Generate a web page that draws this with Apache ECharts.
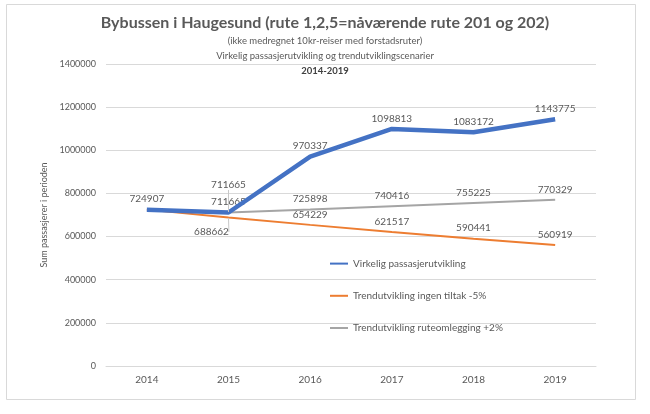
<!DOCTYPE html>
<html>
<head>
<meta charset="utf-8">
<script src="https://cdn.jsdelivr.net/npm/echarts@6/dist/echarts.min.js"></script>
<style>
  html, body { margin: 0; padding: 0; background: #fff; }
  #chart { width: 650px; height: 414px; }
</style>
</head>
<body>
<div id="chart"></div>
<script>
  // data
  const years = ['2014', '2015', '2016', '2017', '2018', '2019'];
  const virkelig = [724907, 711665, 970337, 1098813, 1083172, 1143775];
  const ingenTiltak = [724907, 688662, 654229, 621517, 590441, 560919];
  const ruteomlegging = ['-', 711665, 725898, 740416, 755225, 770329];

  const font = 'Lato, "Open Sans", sans-serif';
  const labelColor = '#595959';

  let myChart = echarts.init(document.getElementById('chart'));

  let baseLabel = {
    show: true,
    position: 'top',
    color: labelColor,
    opacity: 1,
    fontSize: 10,
    fontFamily: font
  };

  // leader line for labels pulled away from their point
  let leader = { show: true, lineStyle: { color: '#c8c8c8', width: 1 } };

  let option = {
    animation: false,
    backgroundColor: '#fff',
    textStyle: { fontFamily: font },
    graphic: [
      {
        type: 'rect',
        shape: { x: 6.5, y: 4.5, width: 629, height: 395 },
        style: { fill: 'none', stroke: '#d9d9d9', lineWidth: 1 },
        z: -1
      }
    ],
    title: [
      {
        text: 'Bybussen i Haugesund (rute 1,2,5=nåværende rute 201 og 202)',
        left: 'center',
        top: 10,
        textStyle: { fontSize: 16, fontWeight: 'bold', color: '#595959', fontFamily: font }
      },
      {
        text: '(ikke medregnet 10kr-reiser med forstadsruter)',
        left: 'center',
        top: 31,
        textStyle: { fontSize: 9.5, fontWeight: 'normal', color: labelColor, fontFamily: font }
      },
      {
        text: 'Virkelig passasjerutvikling og trendutviklingscenarier',
        left: 'center',
        top: 46,
        textStyle: { fontSize: 9.5, fontWeight: 'normal', color: labelColor, fontFamily: font }
      },
      {
        text: '2014-2019',
        left: 'center',
        top: 61,
        textStyle: { fontSize: 9.5, fontWeight: 'bold', color: '#404040', fontFamily: font }
      }
    ],
    legend: {
      orient: 'vertical',
      left: 324,
      top: 253,
      itemGap: 21,
      itemWidth: 18,
      itemHeight: 14,
      textStyle: { fontSize: 10, color: labelColor, fontFamily: font },
      data: ['Virkelig passasjerutvikling', 'Trendutvikling ingen tiltak -5%', 'Trendutvikling ruteomlegging +2%']
    },
    grid: { left: 106, right: 54, top: 64, bottom: 48 },
    xAxis: {
      type: 'category',
      data: years,
      boundaryGap: true,
      axisLine: { lineStyle: { color: '#d9d9d9' } },
      axisTick: { show: false },
      axisLabel: { color: labelColor, fontSize: 10, margin: 9, fontFamily: font }
    },
    yAxis: {
      type: 'value',
      min: 0,
      max: 1400000,
      interval: 200000,
      name: 'Sum passasjerer i perioden',
      nameLocation: 'middle',
      nameRotate: 90,
      nameGap: 44,
      nameTextStyle: { color: labelColor, fontSize: 9, fontFamily: font },
      axisLine: { show: false },
      axisTick: { show: false },
      axisLabel: { color: labelColor, fontSize: 9, margin: 10, fontFamily: font, formatter: (v) => String(v) },
      splitLine: { lineStyle: { color: '#d9d9d9' } }
    },
    series: [
      {
        name: 'Trendutvikling ingen tiltak -5%',
        type: 'line',
        data: ingenTiltak.map((v, i) => {
          if (i === 0) return { value: v, label: { show: false } };
          if (i === 1) return { value: v, label: { position: 'bottom' }, labelLine: leader };
          return v;
        }),
        labelLayout: (p) => p.dataIndex === 1 ? { dx: -17, dy: 4 } : {},
        symbol: 'circle',
        symbolSize: 1,
        itemStyle: { color: 'rgba(0,0,0,0)' },
        lineStyle: { width: 2, color: '#ED7D31' },
        label: baseLabel,
        z: 2
      },
      {
        name: 'Trendutvikling ruteomlegging +2%',
        type: 'line',
        data: ruteomlegging,
        symbol: 'circle',
        symbolSize: 1,
        itemStyle: { color: 'rgba(0,0,0,0)' },
        lineStyle: { width: 2, color: '#A5A5A5' },
        label: baseLabel,
        z: 3
      },
      {
        name: 'Virkelig passasjerutvikling',
        type: 'line',
        data: virkelig.map((v, i) => {
          if (i === 1) return { value: v, labelLine: leader };
          return v;
        }),
        labelLayout: (p) => p.dataIndex === 1 ? { dy: -17 } : {},
        symbol: 'circle',
        symbolSize: 1,
        itemStyle: { color: 'rgba(0,0,0,0)' },
        lineStyle: { width: 4.5, color: '#4472C4' },
        label: baseLabel,
        z: 4
      }
    ]
  };

  option && myChart.setOption(option);
</script>
</body>
</html>
